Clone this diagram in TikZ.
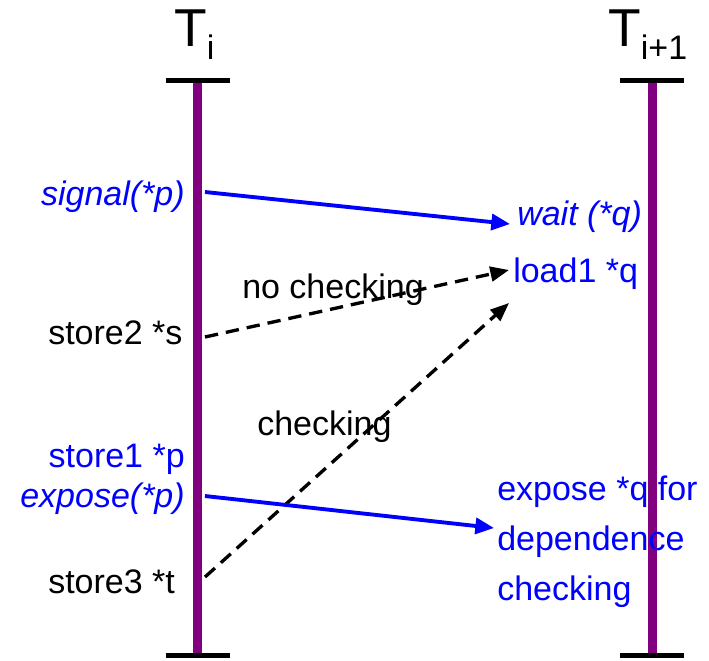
\documentclass[tikz,border=0pt]{standalone}
\usepackage{fontspec}
\setmainfont{Liberation Sans}
\usetikzlibrary{arrows.meta}
\definecolor{lifeline}{RGB}{128,0,128}
\definecolor{msgblue}{RGB}{0,0,255}
\tikzset{
  lbl/.style={inner sep=0pt, font=\fontsize{25.5pt}{30pt}\selectfont},
  blbl/.style={lbl, text=msgblue},
  ilbl/.style={blbl, font=\fontsize{25.5pt}{30pt}\selectfont\itshape},
  life/.style={draw=lifeline, line width=6.75pt},
  bar/.style={draw=black, line width=3.75pt},
  msg/.style={draw=msgblue, line width=2.9pt, -{Triangle[length=14pt,width=12pt]}},
  dep/.style={draw=black, line width=2.5pt, dash pattern=on 10pt off 6pt, -{Triangle[length=14pt,width=11pt]}},
  thd/.style={inner sep=0pt, anchor=base west}
}
\begin{document}
\begin{tikzpicture}[x=0.75pt,y=-0.75pt]
\useasboundingbox (0,0) rectangle (709,660);
% thread titles
\node[thd] (ti) at (174,47) {\fontsize{40pt}{40pt}\selectfont T\raisebox{-9.5pt}{\fontsize{25.5pt}{25.5pt}\selectfont i}};
\node[thd] (tj) at (608,47) {\fontsize{40pt}{40pt}\selectfont T\raisebox{-9.5pt}{\fontsize{25.5pt}{25.5pt}\selectfont i+1}};
% lifelines
\coordinate (lt) at (197.5,80); \coordinate (lb) at (197.5,655);
\coordinate (rt) at (652,80);   \coordinate (rb) at (652,655);
\draw[life] (lt) -- (lb);
\draw[life] (rt) -- (rb);
\draw[bar] ([xshift=-24pt]lt) -- ([xshift=24pt]lt);
\draw[bar] ([xshift=-24pt]lb) -- ([xshift=24pt]lb);
\draw[bar] ([xshift=-24pt]rt) -- ([xshift=24pt]rt);
\draw[bar] ([xshift=-24pt]rb) -- ([xshift=24pt]rb);
% left labels
\node[ilbl, anchor=base east] (sig) at (185,205) {signal(*p)};
\node[lbl, anchor=base west] (st2) at (48,344) {store2 *s};
\node[blbl, anchor=base east] (st1) at (185,467) {store1 *p};
\node[ilbl, anchor=base east] (exp) at (185,507) {expose(*p)};
\node[lbl, anchor=base west] (st3) at (48,593) {store3 *t};
% right labels
\node[ilbl, anchor=base west] (wt) at (517,225) {wait (*q)};
\node[blbl, anchor=base west] (ld) at (513,282) {load1 *q};
\node[blbl, anchor=base west] (ex1) at (497,500) {expose *q for};
\node[blbl, anchor=base west] (ex2) at (497,550) {dependence};
\node[blbl, anchor=base west] (ex3) at (497,600) {checking};
% middle labels
\node[lbl, anchor=base west] (nock) at (242,298) {no checking};
\node[lbl, anchor=base west] (ck) at (257,435) {checking};
% connector endpoints
\coordinate (sigS) at (205,192);  \coordinate (wtE) at (510,224);
\coordinate (st2S) at (205,337);  \coordinate (ldE1) at (509,270);
\coordinate (st3S) at (205,577);  \coordinate (ldE2) at (509,303);
\coordinate (expS) at (205,496);  \coordinate (exE) at (494,528);
% connectors
\draw[msg] (sigS) -- (wtE);
\draw[dep] (st2S) -- (ldE1);
\draw[dep] (st3S) -- (ldE2);
\draw[msg] (expS) -- (exE);
\end{tikzpicture}
\end{document}
